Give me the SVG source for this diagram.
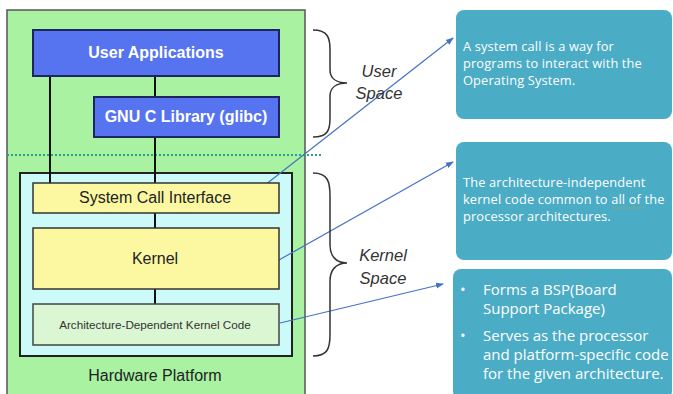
<svg xmlns="http://www.w3.org/2000/svg" width="673" height="394" viewBox="0 0 673 394">
<defs>
<marker id="ah" markerWidth="8" markerHeight="8" refX="7" refY="4" orient="auto" markerUnits="userSpaceOnUse">
<path d="M0,1 L8,4 L0,7 Z" fill="#4472C4"/>
</marker>
<style>
.lay{font-family:"Liberation Sans",Arial,sans-serif;text-anchor:middle}
.blue{fill:#5673F0;stroke:#1E2660;stroke-width:2}
.wt{fill:#fff;font-weight:bold;font-size:16px}
.yel{fill:#FCF8A2;stroke:#333;stroke-width:1.5}
.dk{fill:#222;font-size:16px}
.brace{fill:none;stroke:#333;stroke-width:1.5}
.it{font-family:"Liberation Sans",Arial,sans-serif;font-style:italic;font-size:16.5px;fill:#333;text-anchor:middle}
.teal{fill:#4BACC6}
.note{font-family:"Open Sans","Liberation Sans",sans-serif;fill:#fff;font-size:12.8px;letter-spacing:0.15px}
.note2{font-family:"Open Sans","Liberation Sans",sans-serif;fill:#fff;font-size:15px}
.conn{stroke:#4472C4;stroke-width:1.2;fill:none}
.bar{stroke:#111;stroke-width:2}
</style>
</defs>
<rect width="673" height="394" fill="#fff"/>
<g id="hardware">
<rect x="7" y="10" width="298" height="390" fill="#A8F2A2" stroke="#555" stroke-width="1.5"/>
<text class="lay dk" x="155" y="381">Hardware Platform</text>
</g>
<line x1="7" y1="155" x2="323" y2="155" stroke="#2A9D8F" stroke-width="2" stroke-dasharray="2,2"/>
<g id="kernelspace">
<rect x="20" y="173" width="272" height="183" fill="#CCFAF8" stroke="#222" stroke-width="2"/>
</g>
<g id="connectors">
<line class="bar" x1="50" y1="76" x2="50" y2="183"/>
<line class="bar" x1="155" y1="76" x2="155" y2="97"/>
<line class="bar" x1="155" y1="137" x2="155" y2="183"/>
<line class="bar" x1="155" y1="213" x2="155" y2="228"/>
<line class="bar" x1="155" y1="289" x2="155" y2="304"/>
<line class="conn" x1="265" y1="185" x2="453" y2="38" marker-end="url(#ah)"/>
<line class="conn" x1="279" y1="260" x2="453" y2="162" marker-end="url(#ah)"/>
<line class="conn" x1="280" y1="323" x2="443" y2="284" marker-end="url(#ah)"/>
</g>
<g id="userapps">
<rect class="blue" x="33" y="30" width="246" height="46"/>
<text class="lay wt" x="156" y="58">User Applications</text>
</g>
<g id="glibc">
<rect class="blue" x="94" y="97" width="185" height="40"/>
<text class="lay wt" x="186" y="122">GNU C Library (glibc)</text>
</g>
<g id="sci">
<rect class="yel" x="33" y="183" width="246" height="30"/>
<text class="lay dk" x="155" y="203">System Call Interface</text>
</g>
<g id="kernel">
<rect class="yel" x="33" y="228" width="246" height="61"/>
<text class="lay dk" x="155" y="264">Kernel</text>
</g>
<g id="archdep">
<rect x="33" y="304" width="246" height="41" fill="#DAF6D2" stroke="#444" stroke-width="1.5"/>
<text class="lay" x="155" y="329" font-size="11.7" fill="#333">Architecture-Dependent Kernel Code</text>
</g>
<g id="userspace-brace">
<path class="brace" d="M313,30 C328,30 330,38 330,50 L330,70 C330,78 336,83 347,83 C336,83 330,88 330,96 L330,118 C330,130 328,137 313,137"/>
<text class="it" x="379" y="77">User</text>
<text class="it" x="379" y="99">Space</text>
</g>
<g id="kernelspace-brace">
<path class="brace" d="M313,173 C328,173 330,182 330,196 L330,245 C330,256 336,263 347,263 C336,263 330,270 330,281 L330,334 C330,348 328,356 313,356"/>
<text class="it" x="383" y="261">Kernel</text>
<text class="it" x="383" y="284">Space</text>
</g>
<g id="note1">
<rect class="teal" x="456" y="10" width="216" height="109" rx="8"/>
<text class="note" x="463" y="51">A system call is a way for</text>
<text class="note" x="463" y="68">programs to interact with the</text>
<text class="note" x="463" y="85">Operating System.</text>
</g>
<g id="note2">
<rect class="teal" x="456" y="142" width="216" height="118" rx="8"/>
<text class="note" x="463" y="187">The architecture-independent</text>
<text class="note" x="463" y="204">kernel code common to all of the</text>
<text class="note" x="463" y="221">processor architectures.</text>
<line x1="613" y1="208" x2="645" y2="208" stroke="#C8A040" stroke-width="1" stroke-dasharray="1,1"/>
</g>
<g id="note3">
<rect class="teal" x="453" y="269" width="219" height="130" rx="8"/>
<text class="note2" x="460" y="295">•</text>
<text class="note2" x="483" y="295">Forms a BSP(Board</text>
<text class="note2" x="483" y="314">Support Package)</text>
<text class="note2" x="460" y="341">•</text>
<text class="note2" x="483" y="341">Serves as the processor</text>
<text class="note2" x="483" y="360">and platform-specific code</text>
<text class="note2" x="483" y="379">for the given architecture.</text>
</g>
</svg>
